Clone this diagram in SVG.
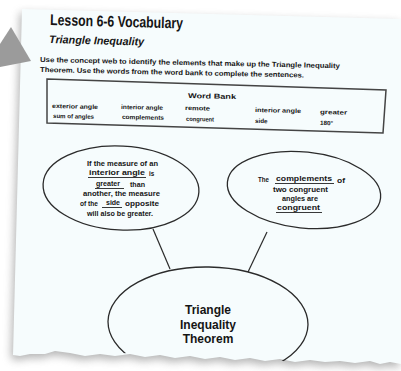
<svg xmlns="http://www.w3.org/2000/svg" width="401" height="371" viewBox="0 0 401 371">
<defs>
<filter id="blur" x="-20%" y="-20%" width="140%" height="140%"><feGaussianBlur stdDeviation="4"/></filter>
<clipPath id="paperClip"><path d="M22,9 L401,19 L401,364 L390,362 L380,364 L370,361 L355,363 L340,361 L325,362 L310,360 L295,362 L280,359 L265,361 L250,358 L235,360 L220,357 L205,359 L190,356 L175,358 L160,355 L145,357 L130,354 L115,356 L100,354 L85,356 L70,353 L55,351 L45,354 L30,354 L20,356 L13,355 Z"/></clipPath>
<style>
.t{font-family:"Liberation Sans",Arial,sans-serif;font-weight:bold;fill:#151515}
.s{font-size:6.3px}
.w{font-size:7.4px}
.big{font-size:12px;text-anchor:middle}
.ell{fill:none;stroke:#2b2b2b;stroke-width:1.3}
.ul{stroke:#222;stroke-width:0.9}
.con{stroke:#2b2b2b;stroke-width:1.2}
</style>
</defs>
<rect width="401" height="371" fill="#fff"/>
<g id="paper">
<path d="M22,9 L401,19 L401,364 L390,362 L380,364 L370,361 L355,363 L340,361 L325,362 L310,360 L295,362 L280,359 L265,361 L250,358 L235,360 L220,357 L205,359 L190,356 L175,358 L160,355 L145,357 L130,354 L115,356 L100,354 L85,356 L70,353 L55,351 L45,354 L30,354 L20,356 L13,355 Z" fill="#777" opacity="0.55" filter="url(#blur)" transform="translate(-2,4)"/>
<path d="M22,9 L401,19 L401,364 L390,362 L380,364 L370,361 L355,363 L340,361 L325,362 L310,360 L295,362 L280,359 L265,361 L250,358 L235,360 L220,357 L205,359 L190,356 L175,358 L160,355 L145,357 L130,354 L115,356 L100,354 L85,356 L70,353 L55,351 L45,354 L30,354 L20,356 L13,355 Z" fill="#f6fcfd"/>
</g>
<polygon id="arrow" points="0,44 11,27 31,61 0,67" fill="#9b9b9b"/>
<g id="header">
<text class="t" x="50" y="25" font-size="15.5" textLength="133" lengthAdjust="spacingAndGlyphs" transform="rotate(1.5 50 25)" style="font-weight:600">Lesson 6-6  Vocabulary</text>
<text class="t" x="49" y="43" font-size="11" font-style="italic" textLength="95" lengthAdjust="spacingAndGlyphs" transform="rotate(1.5 49 43)">Triangle Inequality</text>
<text class="t" x="40" y="62" font-size="7.2" textLength="300" lengthAdjust="spacingAndGlyphs" transform="rotate(1.2 40 62)">Use the concept web to identify the elements that make up the Triangle Inequality</text>
<text class="t" x="40" y="72" font-size="7.2" textLength="264" lengthAdjust="spacingAndGlyphs" transform="rotate(1.2 40 72)">Theorem. Use the words from the word bank to complete the sentences.</text>
</g>
<g id="word-bank">
<polygon points="47,79 386,90 383,133 47,123" fill="none" stroke="#444" stroke-width="1.5"/>
<text class="t" x="188" y="98" font-size="7" textLength="48" lengthAdjust="spacingAndGlyphs" transform="rotate(1.3 188 98)">Word Bank</text>
<text class="t s" x="52" y="108" textLength="46" lengthAdjust="spacingAndGlyphs" transform="rotate(1.3 52 108)">exterior angle</text>
<text class="t s" x="121" y="109" textLength="42" lengthAdjust="spacingAndGlyphs" transform="rotate(1.3 121 109)">interior angle</text>
<text class="t s" x="185" y="110" textLength="25" lengthAdjust="spacingAndGlyphs" transform="rotate(1.3 185 110)">remote</text>
<text class="t s" x="255" y="112" textLength="46" lengthAdjust="spacingAndGlyphs" transform="rotate(1.3 255 112)">interior angle</text>
<text class="t s" x="320" y="114" textLength="27" lengthAdjust="spacingAndGlyphs" transform="rotate(1.3 320 114)">greater</text>
<text class="t s" x="53" y="118" textLength="41" lengthAdjust="spacingAndGlyphs" transform="rotate(1.3 53 118)">sum of angles</text>
<text class="t s" x="122" y="119" textLength="42" lengthAdjust="spacingAndGlyphs" transform="rotate(1.3 122 119)">complements</text>
<text class="t s" x="186" y="121" textLength="28" lengthAdjust="spacingAndGlyphs" transform="rotate(1.3 186 121)">congruent</text>
<text class="t s" x="255" y="123" transform="rotate(1.3 255 123)">side</text>
<text class="t s" x="320" y="125" transform="rotate(1.3 320 125)">180°</text>
</g>
<g id="connectors">
<line class="con" x1="153" y1="229" x2="170" y2="269"/>
<line class="con" x1="267" y1="232" x2="248" y2="272"/>
</g>
<g id="node-left">
<ellipse class="ell" cx="121" cy="188" rx="78" ry="42" transform="rotate(3 121 188)"/>
<text class="t s" x="87" y="166" textLength="71" lengthAdjust="spacingAndGlyphs">If the measure of an</text>
<text class="t w" x="89" y="175" textLength="56" lengthAdjust="spacingAndGlyphs">interior angle</text>
<line class="ul" x1="88" y1="177.5" x2="146" y2="177.5"/>
<text class="t s" x="149" y="176">is</text>
<text class="t w" x="96" y="186" textLength="24" lengthAdjust="spacingAndGlyphs">greater</text>
<line class="ul" x1="95" y1="188.5" x2="124" y2="188.5"/>
<text class="t s" x="130" y="187" textLength="15" lengthAdjust="spacingAndGlyphs">than</text>
<text class="t s" x="83" y="196" textLength="77" lengthAdjust="spacingAndGlyphs">another, the measure</text>
<text class="t s" x="80" y="206" textLength="18" lengthAdjust="spacingAndGlyphs">of the</text>
<text class="t w" x="106" y="205" textLength="14" lengthAdjust="spacingAndGlyphs">side</text>
<line class="ul" x1="102" y1="207.5" x2="122" y2="207.5"/>
<text class="t s" x="125" y="206" textLength="34" lengthAdjust="spacingAndGlyphs">opposite</text>
<text class="t s" x="87" y="216" textLength="66" lengthAdjust="spacingAndGlyphs">will also be greater.</text>
</g>
<g id="node-right">
<ellipse class="ell" cx="304" cy="190" rx="77" ry="38" transform="rotate(6 304 190)"/>
<text class="t s" x="258" y="182" textLength="11" lengthAdjust="spacingAndGlyphs">The</text>
<text class="t w" x="276" y="181" textLength="56" lengthAdjust="spacingAndGlyphs">complements</text>
<line class="ul" x1="275" y1="183.5" x2="334" y2="183.5"/>
<text class="t s" x="337" y="183" textLength="8" lengthAdjust="spacingAndGlyphs">of</text>
<text class="t s" x="273" y="192" textLength="55" lengthAdjust="spacingAndGlyphs">two congruent</text>
<text class="t s" x="282" y="201" textLength="36" lengthAdjust="spacingAndGlyphs">angles are</text>
<text class="t w" x="277" y="210" textLength="43" lengthAdjust="spacingAndGlyphs">congruent</text>
<line class="ul" x1="276" y1="212.5" x2="322" y2="212.5"/>
</g>
<g id="node-center">
<ellipse class="ell" cx="208" cy="323" rx="100" ry="56" transform="rotate(1 208 323)" clip-path="url(#paperClip)"/>
<text class="t big" x="208" y="314">Triangle</text>
<text class="t big" x="208" y="329">Inequality</text>
<text class="t big" x="208" y="343">Theorem</text>
</g>
</svg>
